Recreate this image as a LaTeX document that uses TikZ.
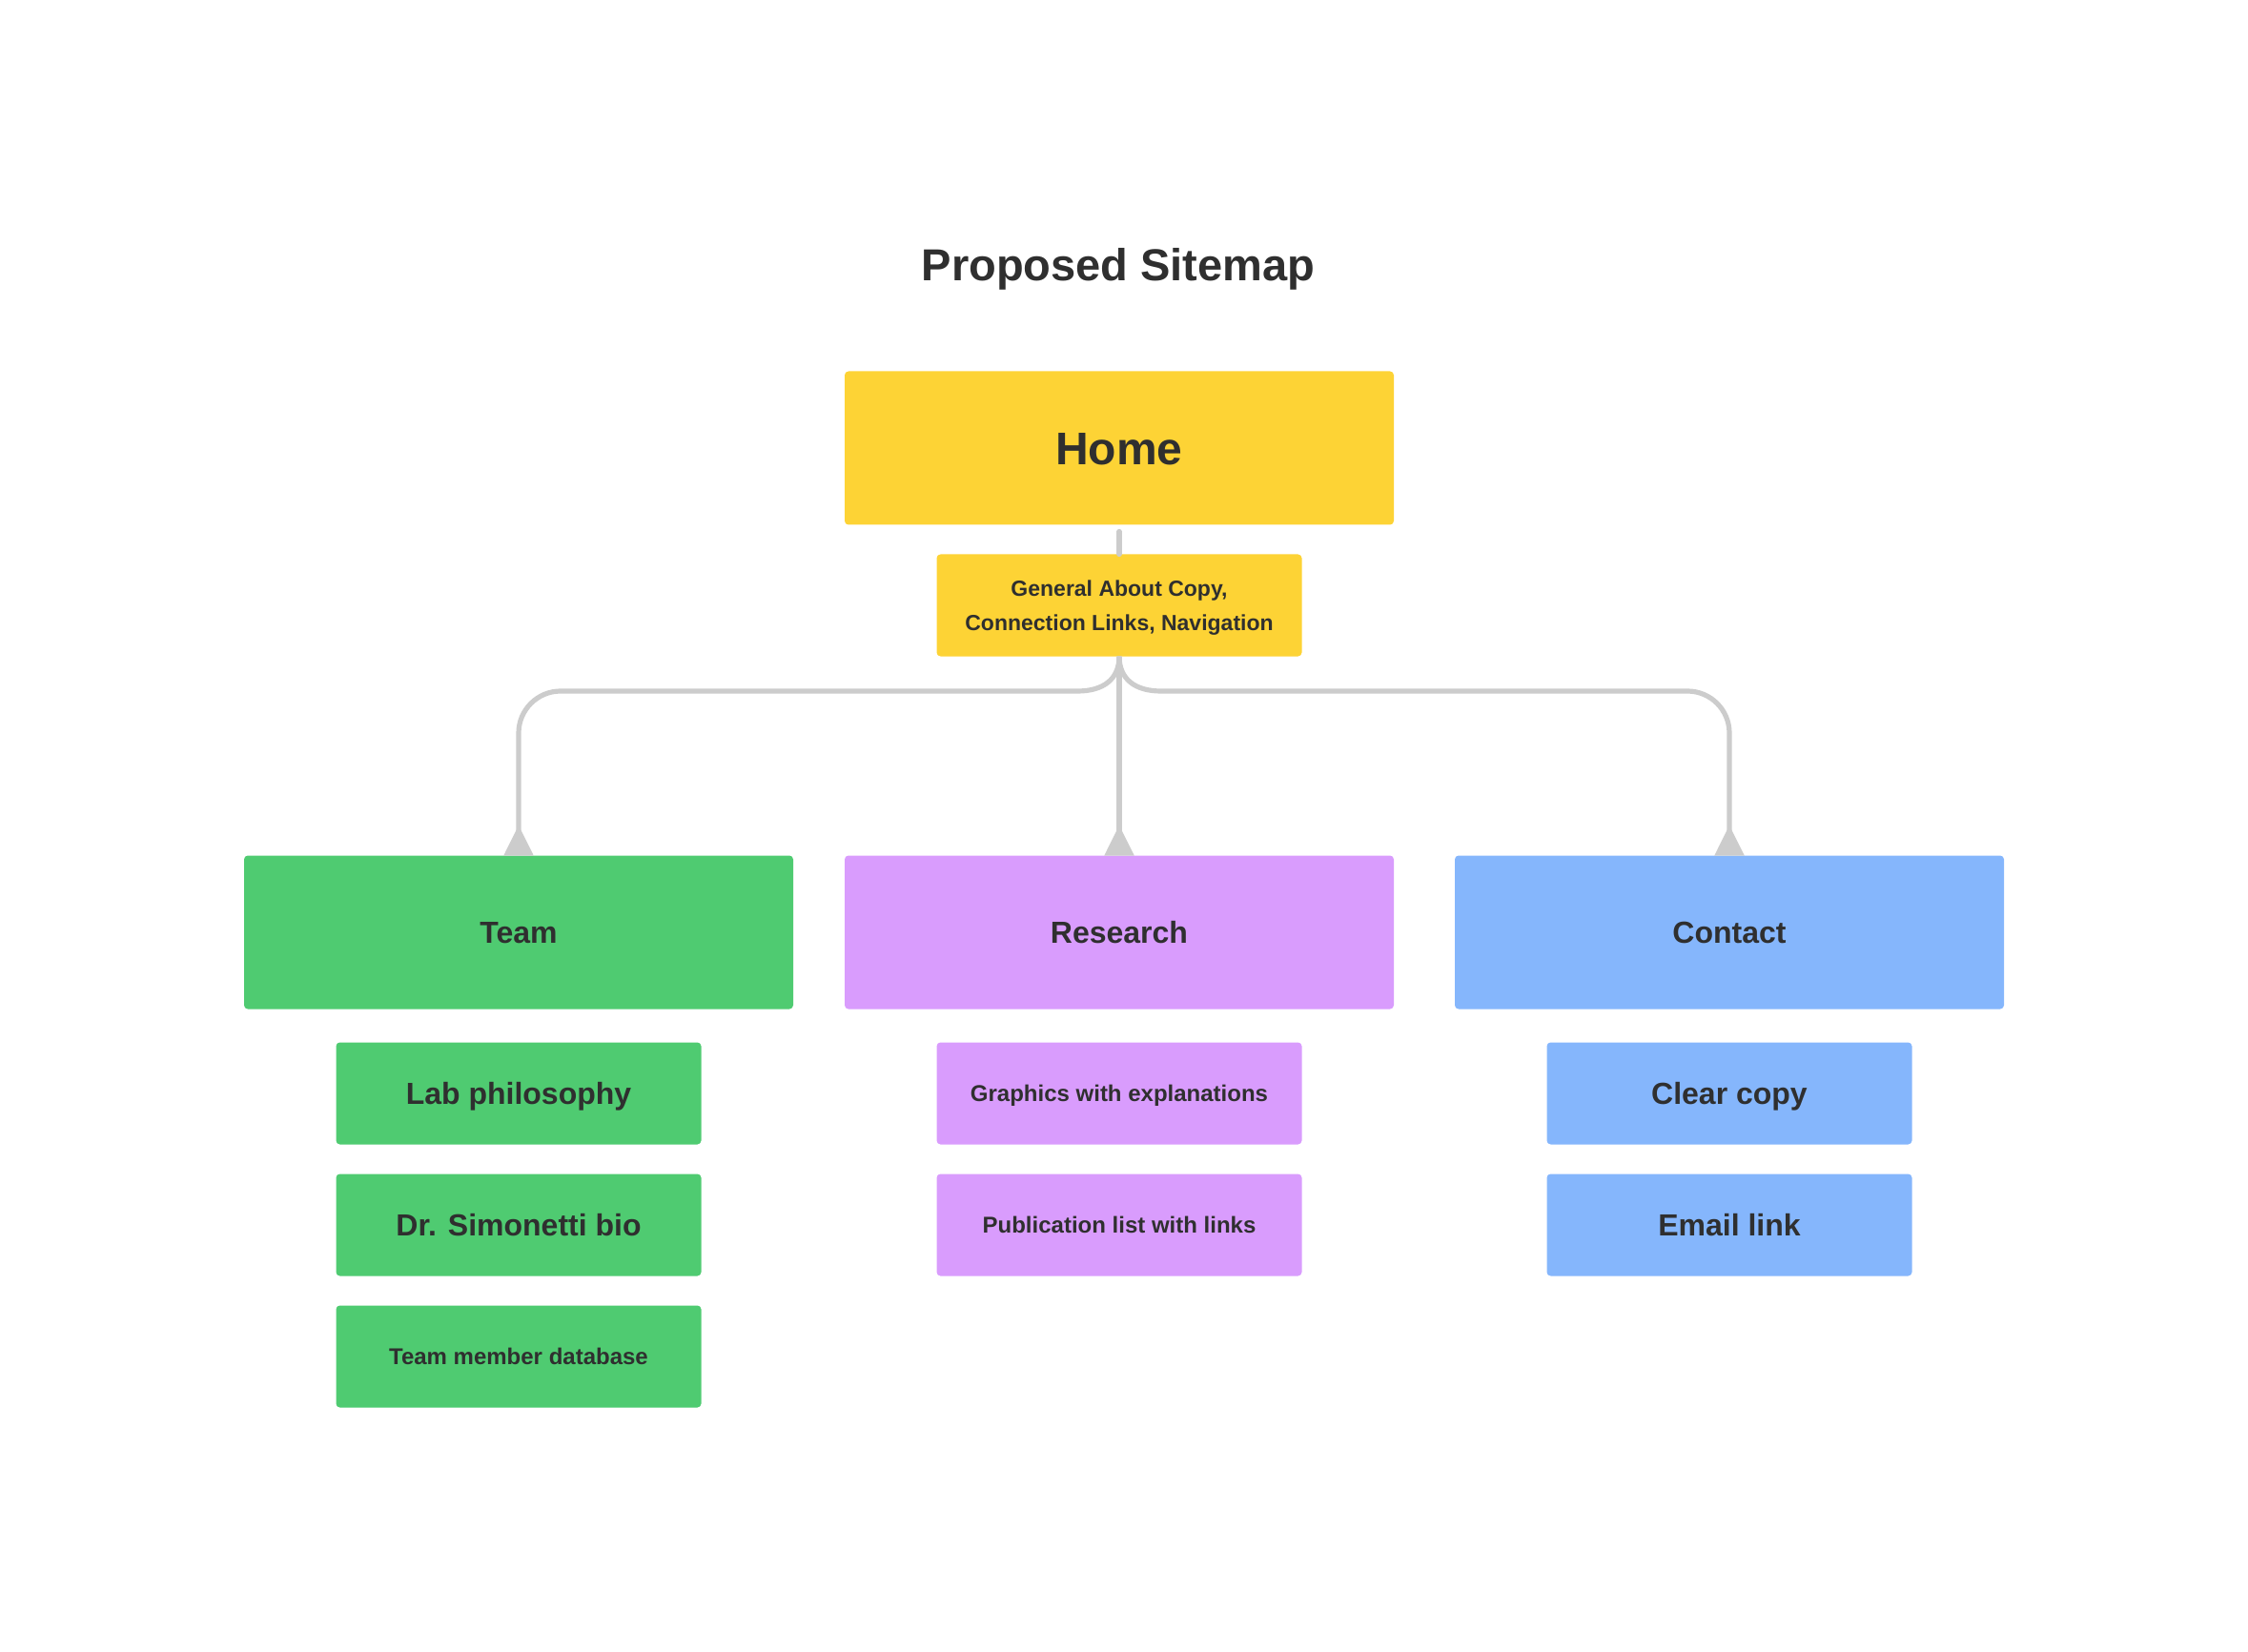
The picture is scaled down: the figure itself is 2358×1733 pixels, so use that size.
\documentclass[tikz,border=0pt]{standalone}
\usepackage{fontspec}
\setmainfont{Liberation Sans}
\usetikzlibrary{arrows.meta}
\definecolor{ink}{HTML}{2F2F2F}
\definecolor{yel}{HTML}{FDD335}
\definecolor{grn}{HTML}{4FCB71}
\definecolor{pur}{HTML}{D99CFD}
\definecolor{blu}{HTML}{85B6FC}
\definecolor{conn}{HTML}{CCCCCC}
\tikzset{
  box/.style={rounded corners=2pt, inner sep=0pt, outer sep=0pt, align=center, text=ink},
  fbig/.style={font=\fontsize{24}{29}\selectfont\bfseries, text height=17.2pt, text depth=0pt},
  fmid/.style={font=\fontsize{16}{19}\selectfont\bfseries, text height=11.5pt, text depth=0pt},
  fsmall/.style={font=\fontsize{12}{14}\selectfont\bfseries, text height=8.6pt, text depth=0pt},
  bigbox/.style={box, minimum width=288pt, minimum height=80.5pt},
  smallbox/.style={box, minimum width=191.5pt, minimum height=53.5pt},
  link/.style={draw=conn, line width=2.6pt},
  tipped/.style={link, -{Triangle[reversed, length=16pt, width=15pt]}}
}
\begin{document}
\begin{tikzpicture}[x=0.5pt, y=-0.5pt]
\useasboundingbox (0,0) rectangle (2358,1733);
\node[text=ink, font=\fontsize{23.5}{28}\selectfont\bfseries] (title) at (1173,282) {Proposed Sitemap};

\node[bigbox, fbig, fill=yel] (home) at (1174,470) {Home};
\node[smallbox, text depth=0pt, fill=yel, font=\fontsize{11.5}{18}\selectfont\bfseries] (gen) at (1174,635) {General About Copy,\\Connection Links, Navigation};

\node[bigbox, fmid, fill=grn] (team) at (544,978) {Team};
\node[bigbox, fmid, fill=pur] (res) at (1174,978) {Research};
\node[bigbox, fmid, fill=blu] (con) at (1814,978) {Contact};

\node[smallbox, fmid, fill=grn] (lab) at (544,1147) {Lab philosophy};
\node[smallbox, fmid, fill=grn] (bio) at (544,1285) {Dr. Simonetti bio};
\node[smallbox, fsmall, fill=grn] (db) at (544,1423) {Team member database};

\node[smallbox, fsmall, fill=pur] (gfx) at (1174,1147) {Graphics with explanations};
\node[smallbox, fsmall, fill=pur] (pub) at (1174,1285) {Publication list with links};

\node[smallbox, fmid, fill=blu] (clr) at (1814,1147) {Clear copy};
\node[smallbox, fmid, fill=blu] (mail) at (1814,1285) {Email link};

\coordinate (jl) at (1130,725);
\coordinate (jr) at (1218,725);
\coordinate (cl) at (544,725);
\coordinate (cr) at (1814,725);

\draw[link, line cap=round, shorten <=3.5pt] (home.south) -- (gen.north);
\draw[tipped] (gen.south) -- (res.north);
\draw[tipped] (gen.south) .. controls (1174,712) and (1158,725) .. (jl) [rounded corners=22pt] -- (cl) -- (team.north);
\draw[tipped] (gen.south) .. controls (1174,712) and (1190,725) .. (jr) [rounded corners=22pt] -- (cr) -- (con.north);
\end{tikzpicture}
\end{document}
